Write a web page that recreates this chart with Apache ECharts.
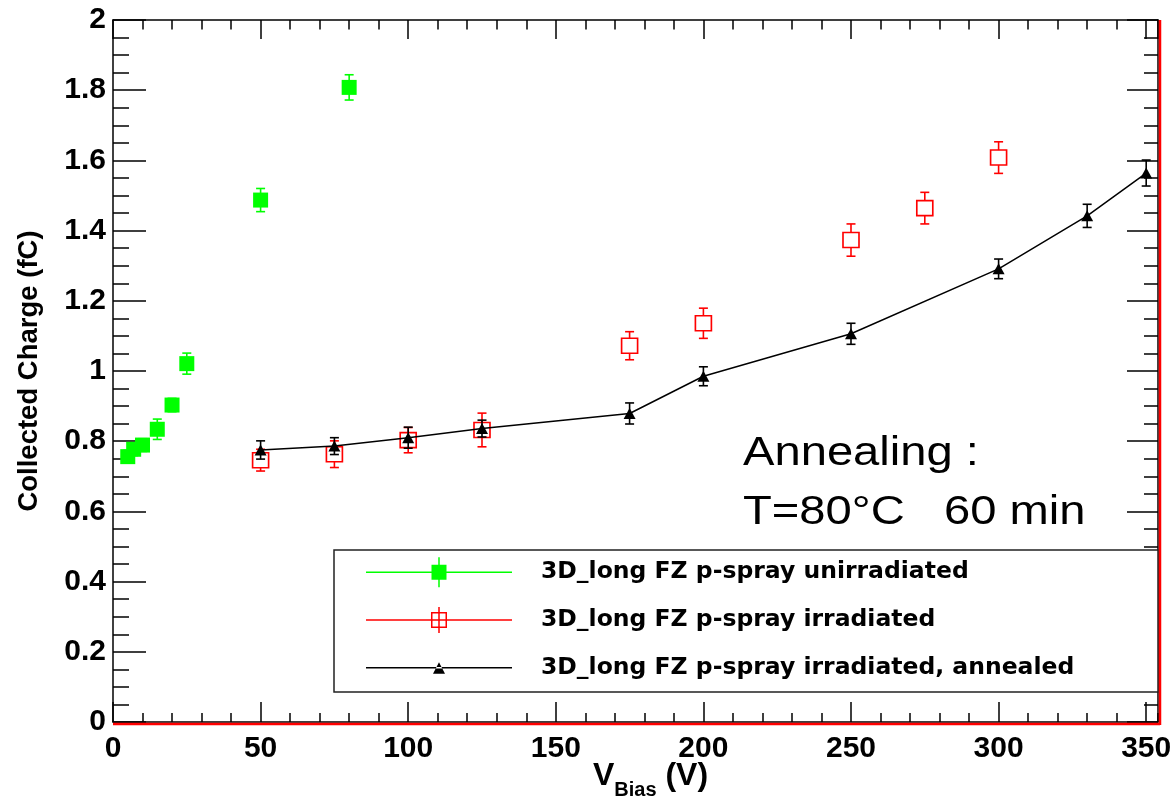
<!DOCTYPE html>
<html><head><meta charset="utf-8">
<script src="https://cdn.jsdelivr.net/npm/echarts@6/dist/echarts.min.js"></script>
<style>html,body{margin:0;padding:0;background:#fff}#c{width:1173px;height:801px}</style>
</head><body><div id="c"></div><script>
// ---- data ----
const seriesNames = ['3D_long FZ p-spray unirradiated', '3D_long FZ p-spray irradiated', '3D_long FZ p-spray irradiated, annealed'];
const greenV   = [5, 7, 10, 15, 20, 25, 50, 80];
const greenQ   = [0.756, 0.777, 0.789, 0.834, 0.903, 1.021, 1.487, 1.808];
const greenErr = [0.018, 0.018, 0.018, 0.029, 0.019, 0.030, 0.033, 0.036];
const redV     = [50, 75, 100, 125, 175, 200, 250, 275, 300];
const redQ     = [0.746, 0.763, 0.803, 0.832, 1.072, 1.136, 1.373, 1.464, 1.608];
const redErr   = [0.031, 0.038, 0.036, 0.048, 0.040, 0.043, 0.046, 0.045, 0.045];
const blackV   = [50, 75, 100, 125, 175, 200, 250, 300, 330, 350];
const blackQ   = [0.775, 0.786, 0.810, 0.836, 0.879, 0.985, 1.106, 1.291, 1.442, 1.564];
const blackErr = [0.026, 0.024, 0.030, 0.024, 0.030, 0.027, 0.030, 0.028, 0.033, 0.037];
const xRange = [0, 354];
const yRange = [0, 2];
const xMajorStep = 50, xMinorStep = 10, yMajorStep = 0.2, yMinorSplit = 4;
const annotationLines = ['Annealing :', 'T=80°C   60 min'];
const xTitle = ['V', 'Bias', ' (V)'];
const yTitle = 'Collected Charge (fC)';

const GREEN = '#00ff00', RED = '#ff0000', BLACK = '#000000';
const AX_FONT = '"Liberation Sans", Arial, Helvetica, sans-serif';
const LEG_FONT = '"DejaVu Sans", sans-serif';

function zip3(a, b, c) { return a.map((v, i) => [v, b[i], c[i]]); }

function errRender(capHalf, gapHalf, color) {
  return function (params, api) {
    const x = api.value(0), y = api.value(1), e = api.value(2);
    const c = api.coord([x, y]);
    const t = api.coord([x, y + e]);
    const b = api.coord([x, y - e]);
    const st = { stroke: color, lineWidth: 1.6 };
    const ch = [];
    if (t[1] < c[1] - gapHalf) {
      ch.push({ type: 'line', shape: { x1: c[0], y1: t[1], x2: c[0], y2: c[1] - gapHalf }, style: st });
      ch.push({ type: 'line', shape: { x1: c[0] - capHalf, y1: t[1], x2: c[0] + capHalf, y2: t[1] }, style: st });
    }
    if (b[1] > c[1] + gapHalf) {
      ch.push({ type: 'line', shape: { x1: c[0], y1: c[1] + gapHalf, x2: c[0], y2: b[1] }, style: st });
      ch.push({ type: 'line', shape: { x1: c[0] - capHalf, y1: b[1], x2: c[0] + capHalf, y2: b[1] }, style: st });
    }
    return { type: 'group', children: ch };
  };
}

const iconGreen = 'path://M0 0 M146 30 M0 14.25 L146 14.25 L146 15.75 L0 15.75 Z M65.5 7.5 L80.5 7.5 L80.5 22.5 L65.5 22.5 Z M72.25 0 L73.75 0 L73.75 30 L72.25 30 Z';
const iconRed = 'path://M0 0 M146 30 M0 14.25 L146 14.25 L146 15.75 L0 15.75 Z M72.25 2 L73.75 2 L73.75 28 L72.25 28 Z M65 7 L81 7 L81 23 L65 23 Z M66.5 8.5 L66.5 21.5 L79.5 21.5 L79.5 8.5 Z';
const iconBlack = 'path://M0 0 M146 30 M0 14.25 L146 14.25 L146 15.75 L0 15.75 Z M67 21 L79 21 L73 9.5 Z';

const tickLine = { color: BLACK, width: 1.5 };
const frameRect = { left: 113, right: 15, top: 20, bottom: 79, containLabel: false, outerBoundsMode: 'none' };
const hiddenY = (gi) => ({ type: 'value', gridIndex: gi, min: yRange[0], max: yRange[1], show: false });
const noSplit = { show: false };
const blackLine = { show: true, onZero: false, lineStyle: { color: BLACK, width: 1.5 } };

const chart = echarts.init(document.getElementById('c'), null, { renderer: 'canvas' });
chart.setOption({
  animation: false,
  backgroundColor: '#ffffff',
  grid: [
    Object.assign({}, frameRect),
    Object.assign({}, frameRect),
    Object.assign({}, frameRect),
    Object.assign({}, frameRect)
  ],
  xAxis: [
    { type: 'value', gridIndex: 0, position: 'bottom', min: xRange[0], max: xRange[1], interval: xMajorStep,
      axisLine: blackLine,
      axisTick: { inside: true, length: 20, lineStyle: tickLine },
      axisLabel: { showMaxLabel: false, margin: 12, color: BLACK, fontFamily: AX_FONT, fontWeight: 'bold', fontSize: 30 },
      splitLine: noSplit,
      name: '{v|' + xTitle[0] + '}{s|' + xTitle[1] + '}{v|' + xTitle[2] + '}',
      nameLocation: 'middle', nameGap: 30, nameMoveOverlap: false,
      nameTextStyle: { color: BLACK, padding: [0, 0, 0, 30], rich: {
        v: { fontFamily: AX_FONT, fontWeight: 'bold', fontSize: 32, color: BLACK },
        s: { fontFamily: AX_FONT, fontWeight: 'bold', fontSize: 20, color: BLACK, padding: [28, 0, 0, 0] } } } },
    { type: 'value', gridIndex: 1, position: 'top', min: xRange[0], max: xRange[1], interval: xMajorStep,
      axisLine: blackLine,
      axisTick: { inside: true, length: 19, lineStyle: tickLine },
      axisLabel: { show: false }, splitLine: noSplit },
    { type: 'value', gridIndex: 2, position: 'bottom', min: xRange[0], max: xRange[1], interval: xMinorStep,
      axisLine: { show: false, onZero: false }, axisTick: { inside: true, length: 9, lineStyle: tickLine },
      axisLabel: { show: false }, splitLine: noSplit },
    { type: 'value', gridIndex: 3, position: 'top', min: xRange[0], max: xRange[1], interval: xMinorStep,
      axisLine: { show: false, onZero: false }, axisTick: { inside: true, length: 9.5, lineStyle: tickLine },
      axisLabel: { show: false }, splitLine: noSplit }
  ],
  yAxis: [
    { type: 'value', gridIndex: 0, position: 'left', min: yRange[0], max: yRange[1], interval: yMajorStep,
      axisLine: blackLine,
      axisTick: { show: true, inside: true, length: 33, lineStyle: tickLine },
      minorTick: { show: true, splitNumber: yMinorSplit, length: 16, lineStyle: tickLine },
      axisLabel: { margin: 7, color: BLACK, fontFamily: AX_FONT, fontWeight: 'bold', fontSize: 30 },
      splitLine: noSplit,
      name: yTitle, nameLocation: 'middle', nameRotate: 90, nameGap: 70, nameMoveOverlap: false,
      nameTextStyle: { color: BLACK, fontFamily: AX_FONT, fontWeight: 'bold', fontSize: 27.5 } },
    { type: 'value', gridIndex: 1, position: 'right', min: yRange[0], max: yRange[1], interval: yMajorStep,
      axisLine: blackLine,
      axisTick: { show: true, inside: true, length: 31, lineStyle: tickLine },
      minorTick: { show: true, splitNumber: yMinorSplit, length: 14, lineStyle: tickLine },
      axisLabel: { show: false }, splitLine: noSplit },
    hiddenY(2),
    hiddenY(3)
  ],
  legend: {
    orient: 'vertical', left: 366, top: 557.3, padding: 0, itemGap: 17.7,
    itemWidth: 146, itemHeight: 30, selectedMode: false, z: 10, symbolKeepAspect: true,
    textStyle: { color: BLACK, fontFamily: LEG_FONT, fontWeight: 'bold', fontSize: 23.5, padding: [0, 0, 0, 24] },
    data: [
      { name: seriesNames[0], icon: iconGreen, itemStyle: { color: GREEN, borderWidth: 0 } },
      { name: seriesNames[1], icon: iconRed, itemStyle: { color: RED, borderWidth: 0 } },
      { name: seriesNames[2], icon: iconBlack, itemStyle: { color: BLACK, borderWidth: 0 } }
    ]
  },
  graphic: [
    { id: 'legbox', type: 'rect', z: 1, shape: { x: 334, y: 550, width: 824, height: 142 },
      style: { fill: '#ffffff', stroke: '#222222', lineWidth: 1.5 } },
    { id: 'ann1', type: 'text', z: 5, x: 743, y: 454, scaleX: 1.15,
      style: { text: annotationLines[0], fill: BLACK, font: '41px "Liberation Sans", Arial, sans-serif', align: 'left', verticalAlign: 'middle' } },
    { id: 'ann2', type: 'text', z: 5, x: 743, y: 513, scaleX: 1.15,
      style: { text: annotationLines[1], fill: BLACK, font: '41px "Liberation Sans", Arial, sans-serif', align: 'left', verticalAlign: 'middle' } }
  ],
  series: [
    { name: 'err-red', type: 'custom', z: 3, renderItem: errRender(4.5, 7.5, RED),
      data: zip3(redV, redQ, redErr), encode: { x: 0, y: 1 }, silent: true },
    { name: seriesNames[1], type: 'scatter', z: 4, symbol: 'rect', symbolSize: [16, 15],
      itemStyle: { color: 'rgba(255,255,255,0)', borderColor: RED, borderWidth: 1.6, opacity: 1 },
      data: redV.map((v, i) => [v, redQ[i]]) },
    { name: 'err-black', type: 'custom', z: 5, renderItem: errRender(4.5, 0, BLACK),
      data: zip3(blackV, blackQ, blackErr), encode: { x: 0, y: 1 }, silent: true },
    { name: seriesNames[2], type: 'line', z: 6, symbol: 'triangle', symbolSize: [12, 11], showAllSymbol: true,
      lineStyle: { color: BLACK, width: 1.5 }, itemStyle: { color: BLACK, borderWidth: 0 },
      data: blackV.map((v, i) => [v, blackQ[i]]) },
    { name: 'err-green', type: 'custom', z: 7, renderItem: errRender(4.5, 0, GREEN),
      data: zip3(greenV, greenQ, greenErr), encode: { x: 0, y: 1 }, silent: true },
    { name: seriesNames[0], type: 'scatter', z: 8, symbol: 'rect', symbolSize: [15, 15],
      itemStyle: { color: GREEN, borderWidth: 0, opacity: 1 },
      data: greenV.map((v, i) => [v, greenQ[i]]) }
  ]
});

// red pad border just outside the bottom and right frame edges, located via the axes
const pLo = chart.convertToPixel({ gridIndex: 0 }, [xRange[0], yRange[0]]);
const pHi = chart.convertToPixel({ gridIndex: 0 }, [xRange[1], yRange[1]]);
chart.setOption({
  graphic: [
    { id: 'redBottom', type: 'line', z: 20, shape: { x1: pLo[0], y1: pLo[1] + 2, x2: pHi[0] + 2, y2: pLo[1] + 2 },
      style: { stroke: RED, lineWidth: 2.5 } },
    { id: 'redRight', type: 'line', z: 20, shape: { x1: pHi[0] + 2, y1: pHi[1], x2: pHi[0] + 2, y2: pLo[1] + 3 },
      style: { stroke: RED, lineWidth: 2.5 } }
  ]
});
</script></body></html>
